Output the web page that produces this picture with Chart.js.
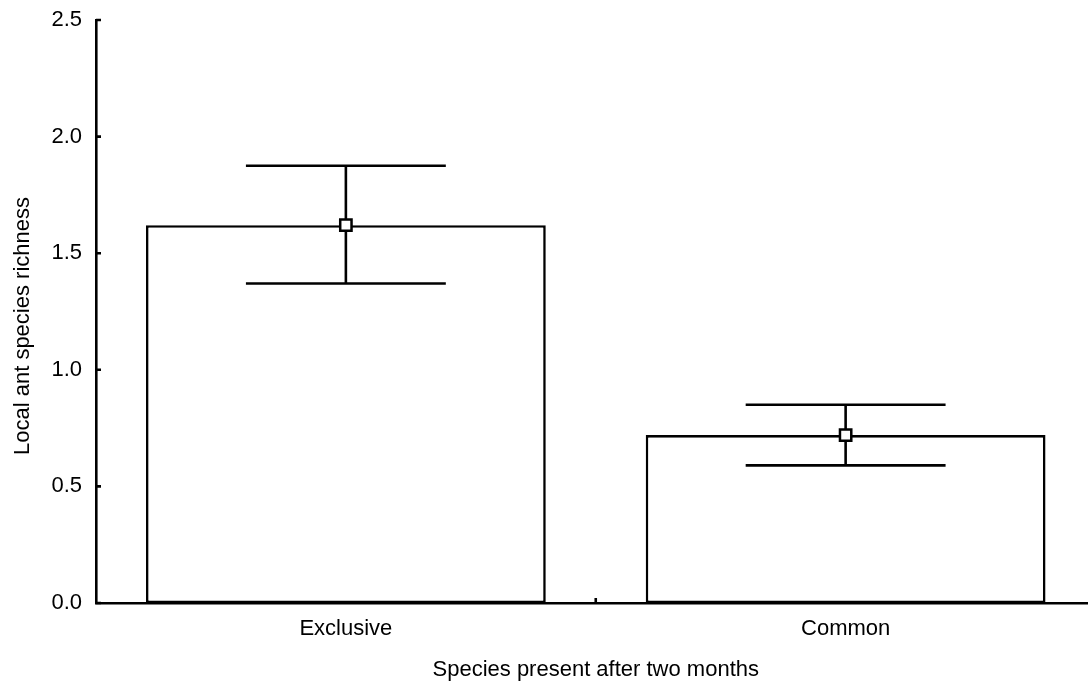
<!DOCTYPE html>
<html>
<head>
<meta charset="utf-8">
<script src="https://cdn.jsdelivr.net/npm/chart.js@4/dist/chart.umd.min.js"></script>
<style>
  html, body { margin: 0; padding: 0; background: #fff; overflow: hidden; }
</style>
</head>
<body>
<canvas id="richness-chart" width="1106" height="684"></canvas>
<script>
// categories and values
var categories = ["Exclusive", "Common"];
var means = [1.62, 0.72];
var errLow = [1.37, 0.59];
var errHigh = [1.875, 0.85];
var yTicks = [0, 0.5, 1.0, 1.5, 2.0, 2.5];

Chart.defaults.font.family = "'Liberation Sans', Arial, sans-serif";
Chart.defaults.font.size = 22;
Chart.defaults.color = "#000";

// whiskers, drawn right after the bars so the markers sit on top
var errorBars = {
  id: "errorBars",
  afterDatasetDraw: function(chart, args) {
    if (args.index !== 1) return;
    var ctx = chart.ctx, x = chart.scales.x, y = chart.scales.y;
    var half = (x.getPixelForValue(1) - x.getPixelForValue(0)) * 0.2;
    ctx.save();
    ctx.strokeStyle = "#000";
    ctx.lineWidth = 2.6;
    for (var i = 0; i < categories.length; i++) {
      var cx = x.getPixelForValue(i);
      var top = y.getPixelForValue(errHigh[i]);
      var bot = y.getPixelForValue(errLow[i]);
      ctx.beginPath();
      ctx.moveTo(cx, top); ctx.lineTo(cx, bot);
      ctx.moveTo(cx - half, top); ctx.lineTo(cx + half, top);
      ctx.moveTo(cx - half, bot); ctx.lineTo(cx + half, bot);
      ctx.stroke();
    }
    ctx.restore();
  }
};

// small inward tick marks + rotated y title
var axisExtras = {
  id: "axisExtras",
  afterDraw: function(chart) {
    var ctx = chart.ctx, x = chart.scales.x, y = chart.scales.y;
    var area = chart.chartArea;
    ctx.save();
    ctx.strokeStyle = "#000";
    ctx.lineWidth = 2.6;
    ctx.beginPath();
    yTicks.forEach(function(v) {
      var py = y.getPixelForValue(v);
      ctx.moveTo(area.left, py); ctx.lineTo(area.left + 5, py);
    });
    var bx = (x.getPixelForValue(0) + x.getPixelForValue(1)) / 2;
    ctx.moveTo(bx, area.bottom); ctx.lineTo(bx, area.bottom - 5);
    ctx.stroke();

    ctx.translate(29, 326);
    ctx.rotate(-Math.PI / 2);
    ctx.fillStyle = "#000";
    ctx.font = "22px 'Liberation Sans', Arial, sans-serif";
    ctx.textAlign = "center";
    ctx.textBaseline = "alphabetic";
    ctx.fillText("Local ant species richness", 0, 0);
    ctx.restore();
  }
};

new Chart(document.getElementById("richness-chart"), {
  data: {
    labels: categories,
    datasets: [{
        type: "line",
        data: means,
        showLine: false,
        pointStyle: "rect",
        pointRadius: 8,
        pointBackgroundColor: "#fff",
        pointBorderColor: "#000",
        pointBorderWidth: 2.5,
        order: 1
      }, {
        type: "bar",
        data: means,
        backgroundColor: "#fff",
        borderColor: "#000",
        borderWidth: 2.6,
        borderSkipped: false,
        barPercentage: 1,
        categoryPercentage: 0.8,
        order: 2
      }
    ]
  },
  options: {
    responsive: false,
    animation: false,
    layout: { padding: { left: 0, top: 20, right: 0, bottom: 0 } },
    plugins: { legend: { display: false }, tooltip: { enabled: false } },
    scales: {
      x: {
        grid: { display: false, drawTicks: false },
        border: { display: true, color: "#000", width: 2.6 },
        ticks: { padding: 13 },
        title: {
          display: true,
          text: "Species present after two months",
          padding: { top: 0, bottom: 1 }
        },
        afterFit: function(s) {
          s.height = 81;
          s.paddingLeft = 0;
          s.paddingRight = 0;
        }
      },
      y: {
        min: 0,
        max: 2.5,
        grid: { display: false, drawTicks: false },
        border: { display: true, color: "#000", width: 2.6 },
        ticks: {
          stepSize: 0.5,
          padding: 14,
          callback: function(value) { return value.toFixed(1); }
        },
        afterFit: function(s) {
          s.width = 96;
          s.paddingTop = 0;
          s.paddingBottom = 0;
        }
      }
    }
  },
  plugins: [errorBars, axisExtras]
});
</script>
</body>
</html>
